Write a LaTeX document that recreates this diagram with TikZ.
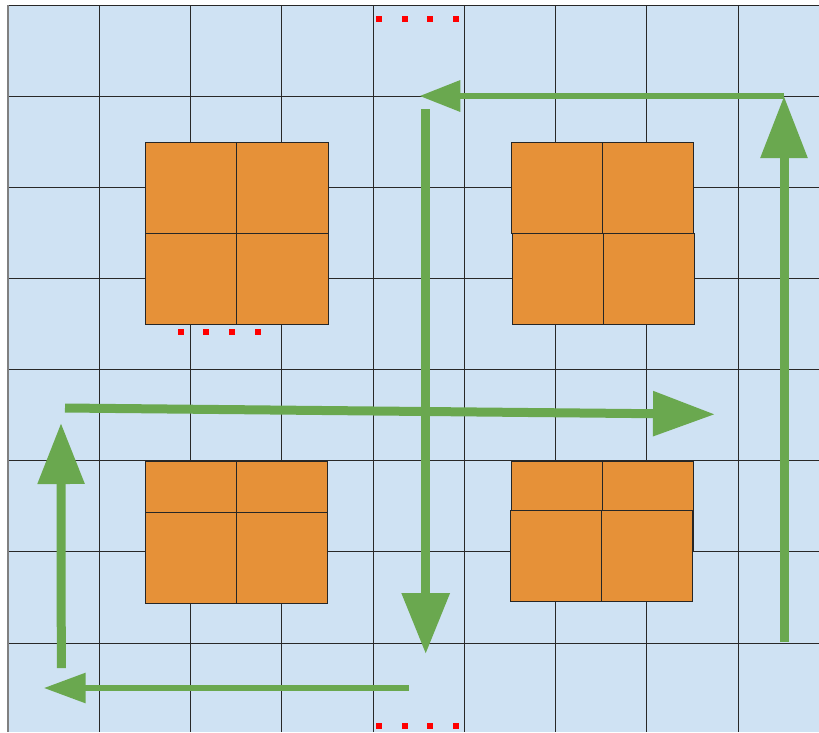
\documentclass[tikz,border=0pt]{standalone}
\usetikzlibrary{arrows.meta}
\definecolor{bgblue}{RGB}{207,226,243}
\definecolor{boxorange}{RGB}{230,145,56}
\definecolor{flowgreen}{RGB}{106,168,79}
\definecolor{gridline}{RGB}{40,40,40}
\tikzset{
  gridstyle/.style={draw=gridline, line width=1pt},
  cell/.style={fill=boxorange, draw=black!85, line width=1pt},
  reddot/.style={fill=red, draw=none},
  flow/.style={draw=flowgreen, line width=#1},
  bighead/.style={-{Triangle[length=62pt,width=45pt]}},
  smallhead/.style={-{Triangle[length=41pt,width=30pt]}}
}
\begin{document}
\begin{tikzpicture}[x=1pt,y=-1pt]
\useasboundingbox (0,0) rectangle (819,732);
% background
\fill[bgblue] (8,5.3) rectangle (819,732);
% grid
\foreach \i in {0,...,8} {
  \draw[gridstyle] ({8+91.25*\i},5.3) -- ({8+91.25*\i},732);
}
\foreach \j in {0,...,7} {
  \draw[gridstyle] (8,{5.3+91.1*\j}) -- (819,{5.3+91.1*\j});
}
\draw[draw=gray, line width=1.2pt] (8,5.3) -- (8,732);
% top-left block
\draw[cell] (145,142) rectangle (236.5,233);
\draw[cell] (236.5,142) rectangle (328,233);
\draw[cell] (145,233) rectangle (236.5,324);
\draw[cell] (236.5,233) rectangle (328,324);
% top-right block
\draw[cell] (511,142) rectangle (602,233);
\draw[cell] (602,142) rectangle (693,233);
\draw[cell] (512,233) rectangle (603,324);
\draw[cell] (603,233) rectangle (694,324);
% bottom-left block
\draw[cell] (145,461) rectangle (236,552);
\draw[cell] (236,461) rectangle (327,552);
\draw[cell] (145,512) rectangle (236,603);
\draw[cell] (236,512) rectangle (327,603);
% bottom-right block
\draw[cell] (511,461) rectangle (602,551);
\draw[cell] (602,461) rectangle (693,551);
\draw[cell] (510,510) rectangle (601,601);
\draw[cell] (601,510) rectangle (692,601);
% red dots
\foreach \x in {379,404.7,430.3,456} {
  \fill[reddot] (\x-3,16) rectangle (\x+3,22);
  \fill[reddot] (\x-3,723) rectangle (\x+3,729);
}
\foreach \x in {180.7,206.3,232,257.7} {
  \fill[reddot] (\x-3,328.7) rectangle (\x+3,334.7);
}
% arrow end points
\coordinate (rs) at (784,642);
\coordinate (rt) at (784,96);
\coordinate (ts) at (784,96);
\coordinate (tt) at (419.3,96);
\coordinate (ms) at (425.7,109);
\coordinate (mt) at (425.7,654);
\coordinate (hs) at (65,408);
\coordinate (ht) at (715,414.3);
\coordinate (ls) at (61.3,668);
\coordinate (lt) at (61,423);
\coordinate (bs) at (409,688);
\coordinate (bt) at (43.7,688);
% arrows
\draw[flow=9pt, bighead] (rs) -- (rt);
\draw[flow=6.5pt, smallhead] (ts) -- (tt);
\draw[flow=9.5pt, -{Triangle[length=61pt,width=46pt]}] (ms) -- (mt);
\draw[flow=9pt, -{Triangle[length=62pt,width=43pt]}] (hs) -- (ht);
\draw[flow=9pt, -{Triangle[length=61pt,width=45pt]}] (ls) -- (lt);
\draw[flow=6pt, -{Triangle[length=42pt,width=29pt]}] (bs) -- (bt);
\end{tikzpicture}
\end{document}
